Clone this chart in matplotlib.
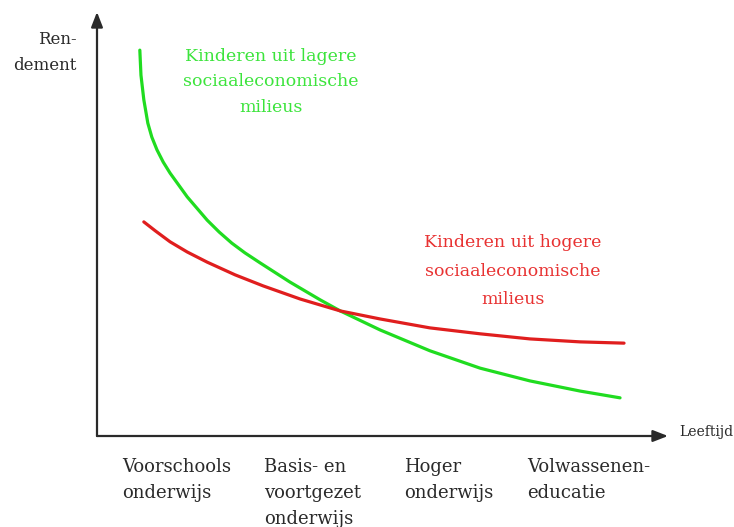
import matplotlib.pyplot as plt

# Rendement curves (age 0-100 along x, rendement 0-100 along y)
lager_x = [7.5, 7.7, 8.2, 8.9, 9.6, 10.5, 11.6, 12.8, 15.8, 19.3, 21.4, 23.6, 25.9, 28.6,
           33.8, 39.1, 42.6, 49.6, 58.3, 67.1, 75.8, 84.6, 91.6]
lager_y = [91.0, 85.1, 79.3, 73.8, 70.5, 67.5, 64.6, 62.0, 56.4, 50.9, 48.1, 45.5, 43.2, 40.8,
           36.3, 32.1, 29.5, 25.0, 20.1, 16.0, 13.0, 10.6, 9.0]
hoger_x = [8.2, 10.2, 12.8, 15.8, 19.3, 24.2, 29.1, 35.6, 42.6, 49.6, 58.3, 67.1, 75.8, 84.6, 92.3]
hoger_y = [50.5, 48.4, 45.8, 43.4, 41.0, 38.0, 35.4, 32.3, 29.5, 27.6, 25.5, 24.1, 22.9, 22.2, 21.9]

categories = ['Voorschools\nonderwijs', 'Basis- en\nvoortgezet\nonderwijs',
              'Hoger\nonderwijs', 'Volwassenen-\neducatie']
category_x = [4.4, 29.2, 53.7, 75.3]

W, H = 734, 527
fig = plt.figure(figsize=(W / 100, H / 100), dpi=100)
fig.patch.set_facecolor('white')

def px(x, y):
    # pixel position in the picture -> figure fraction
    return x / W, 1 - y / H

x0, y0 = px(97, 436)
x1, y1 = px(668, 12)
ax = fig.add_axes([x0, y0, x1 - x0, y1 - y0])
ax.set_xlim(0, 100)
ax.set_ylim(0, 100)
ax.axis('off')

green = '#20dc20'
red = '#e01e1e'
ax.plot(lager_x, lager_y, color=green, lw=2.3, solid_capstyle='round', solid_joinstyle='round')
ax.plot(hoger_x, hoger_y, color=red, lw=2.3, solid_capstyle='round', solid_joinstyle='round')

# axes with arrow heads
arrow = dict(arrowstyle='-|>,head_length=0.9,head_width=0.35', color='#2a2a2a', lw=1.6,
             shrinkA=0, shrinkB=0)
ax.annotate('', xy=(0, 1), xytext=(0, 0), xycoords='axes fraction', arrowprops=arrow)
ax.annotate('', xy=(1, 0), xytext=(0, 0), xycoords='axes fraction', arrowprops=arrow)

font = 'DejaVu Serif'
dark = '#2a2a2a'

fig.text(*px(77, 40), 'Ren-', ha='right', va='center', family=font, fontsize=12, color=dark)
fig.text(*px(77, 66), 'dement', ha='right', va='center', family=font, fontsize=12, color=dark)
fig.text(*px(679, 432), 'Leeftijd', ha='left', va='center', family=font, fontsize=10, color=dark)

fig.text(*px(271, 82), 'Kinderen uit lagere\nsociaaleconomische\nmilieus', ha='center', va='center',
         family=font, fontsize=12.5, color='#3ce43c', linespacing=1.66)
fig.text(*px(513, 271), 'Kinderen uit hogere\nsociaaleconomische\nmilieus', ha='center', va='center',
         family=font, fontsize=12.5, color='#e83232', linespacing=1.86)

for label, cx in zip(categories, category_x):
    ax.text(cx, -0.053, label, transform=ax.get_xaxis_transform(), ha='left', va='top',
            family=font, fontsize=13, color=dark, linespacing=1.55)

fig.savefig('out.png', dpi=100)
